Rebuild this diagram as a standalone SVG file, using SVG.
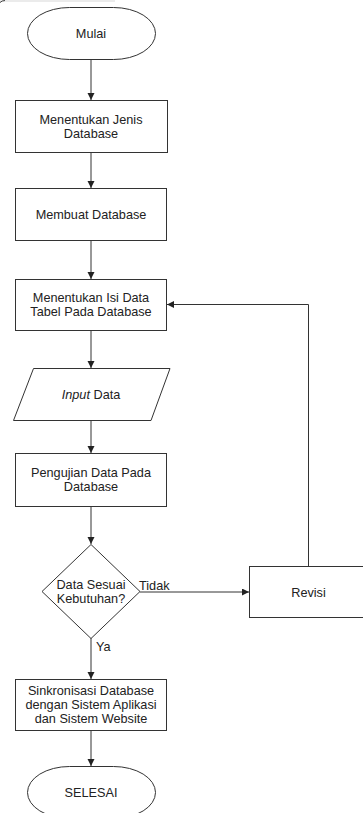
<svg xmlns="http://www.w3.org/2000/svg" width="363" height="813" viewBox="0 0 363 813">
<style>
.shape{fill:#fff;stroke:#333;stroke-width:1}
.conn{fill:none;stroke:#333;stroke-width:1}
text{font-family:"Liberation Sans",Arial,sans-serif;font-size:12.7px;fill:#222;text-anchor:middle}
.lbl{text-anchor:start}
</style>
<defs>
<marker id="arr" markerUnits="userSpaceOnUse" markerWidth="8" markerHeight="8" refX="7" refY="3.5" orient="auto">
<path d="M0,0 L7,3.5 L0,7 z" fill="#222"/>
</marker>
</defs>
<rect width="363" height="813" fill="#fff"/>
<line x0="0" x1="115" y1="1" y2="1" stroke="#e4e4e4" stroke-width="1.5"/>
<path d="M0,2.5 Q2,0.5 5,0.5" fill="none" stroke="#444" stroke-width="1"/>
<g id="connectors">
<line class="conn" x1="91" y1="59" x2="91" y2="100" marker-end="url(#arr)"/>
<line class="conn" x1="91" y1="152" x2="91" y2="188" marker-end="url(#arr)"/>
<line class="conn" x1="91" y1="240" x2="91" y2="279" marker-end="url(#arr)"/>
<line class="conn" x1="91" y1="330" x2="91" y2="368" marker-end="url(#arr)"/>
<line class="conn" x1="91" y1="420" x2="91" y2="453" marker-end="url(#arr)"/>
<line class="conn" x1="91" y1="506" x2="91" y2="544" marker-end="url(#arr)"/>
<line class="conn" x1="140" y1="592" x2="249" y2="592" marker-end="url(#arr)"/>
<polyline class="conn" points="308.5,566 308.5,304.5 167,304.5" marker-end="url(#arr)"/>
<line class="conn" x1="91" y1="638" x2="91" y2="679" marker-end="url(#arr)"/>
<line class="conn" x1="91" y1="730" x2="91" y2="766" marker-end="url(#arr)"/>
<text class="lbl" x="139" y="589.5">Tidak</text>
<text class="lbl" x="96" y="650.5">Ya</text>
</g>
<g id="mulai">
<rect class="shape" x="27.5" y="7.5" width="128" height="52" rx="42" ry="26"/>
<text x="91" y="37.5">Mulai</text>
</g>
<g id="jenis">
<rect class="shape" x="15.5" y="100.5" width="152" height="52"/>
<text x="91" y="123.5">Menentukan Jenis</text>
<text x="91" y="137.5">Database</text>
</g>
<g id="membuat">
<rect class="shape" x="15.5" y="188.5" width="151" height="52"/>
<text x="91" y="218.5">Membuat Database</text>
</g>
<g id="isi">
<rect class="shape" x="15.5" y="279.5" width="151" height="51"/>
<text x="91" y="302">Menentukan Isi Data</text>
<text x="91" y="316">Tabel Pada Database</text>
</g>
<g id="input">
<polygon class="shape" points="33.5,368.5 170,368.5 151,420.5 13.5,420.5"/>
<text x="91" y="398.5"><tspan font-style="italic">Input</tspan> Data</text>
</g>
<g id="pengujian">
<rect class="shape" x="15.5" y="453.5" width="151" height="53"/>
<text x="91" y="477">Pengujian Data Pada</text>
<text x="91" y="491">Database</text>
</g>
<g id="keputusan">
<polygon class="shape" points="91,544.5 140,591.5 91,638.5 42,591.5"/>
<text x="91" y="588.5">Data Sesuai</text>
<text x="91" y="602.5">Kebutuhan?</text>
</g>
<g id="revisi">
<rect class="shape" x="249.5" y="566.5" width="120" height="51"/>
<text x="308.5" y="596.5">Revisi</text>
</g>
<g id="sinkronisasi">
<rect class="shape" x="15.5" y="679.5" width="151" height="51"/>
<text x="91" y="695">Sinkronisasi Database</text>
<text x="91" y="709">dengan Sistem Aplikasi</text>
<text x="91" y="723">dan Sistem Website</text>
</g>
<g id="selesai">
<rect class="shape" x="27.5" y="766.5" width="128" height="52" rx="42" ry="26"/>
<text x="91" y="796.5">SELESAI</text>
</g>
</svg>
